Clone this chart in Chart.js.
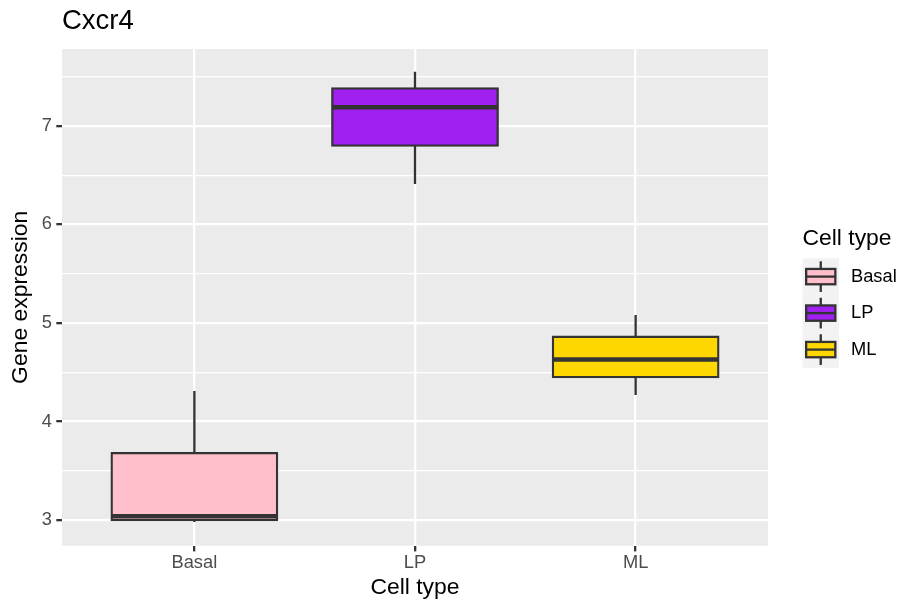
<!DOCTYPE html>
<html>
<head>
<meta charset="utf-8">
<title>Cxcr4</title>
<script src="https://cdn.jsdelivr.net/npm/chart.js@4.4.1/dist/chart.umd.min.js"></script>
<style>
  html, body { margin: 0; padding: 0; background: #ffffff; }
  #wrap { width: 898px; height: 601px; }
</style>
</head>
<body>
<div id="wrap"><canvas id="boxChart" width="898" height="601"></canvas></div>
<script>
// Cxcr4 expression per cell type - box statistics
const categories = ['Basal', 'LP', 'ML'];
const whiskerLow = [2.98, 6.41, 4.27];
const lowerQuartile = [3.00, 6.80, 4.45];
const medians = [3.04, 7.19, 4.63];
const upperQuartile = [3.68, 7.38, 4.86];
const whiskerHigh = [4.31, 7.55, 5.08];
const boxColors = ['#FFC0CB', '#A020F0', '#FFD700'];
const yMajorTicks = [3, 4, 5, 6, 7];
const yMinorTicks = [3.5, 4.5, 5.5, 6.5, 7.5];

const FONT = "'Liberation Sans', Arial, Helvetica, sans-serif";
const LINE = '#333333';
const STROKE = 2.3;

// grey panel behind the grid
const panelBackground = {
    id: 'panelBackground',
    beforeDraw(chart) {
        const { ctx, chartArea: a } = chart;
        ctx.save();
        ctx.fillStyle = '#EBEBEB';
        ctx.fillRect(a.left, a.top, a.right - a.left, a.bottom - a.top);
        ctx.restore();
    }
};

// whiskers under the boxes, median bars on top
const boxWhiskers = {
    id: 'boxWhiskers',
    beforeDatasetsDraw(chart) {
        const { ctx, scales: { x, y } } = chart;
        ctx.save();
        ctx.strokeStyle = LINE;
        ctx.lineWidth = STROKE;
        ctx.lineCap = 'butt';
        categories.forEach((c, i) => {
            const px = x.getPixelForValue(i);
            ctx.beginPath();
            ctx.moveTo(px, y.getPixelForValue(upperQuartile[i]));
            ctx.lineTo(px, y.getPixelForValue(whiskerHigh[i]));
            ctx.moveTo(px, y.getPixelForValue(lowerQuartile[i]));
            ctx.lineTo(px, y.getPixelForValue(whiskerLow[i]));
            ctx.stroke();
        });
        ctx.restore();
    },
    afterDatasetsDraw(chart) {
        const { ctx, scales: { y } } = chart;
        const meta = chart.getDatasetMeta(0);
        ctx.save();
        ctx.strokeStyle = LINE;
        ctx.lineWidth = 4.5;
        ctx.lineCap = 'butt';
        meta.data.forEach((bar, i) => {
            const { x, width } = bar.getProps(['x', 'width'], true);
            const py = y.getPixelForValue(medians[i]);
            ctx.beginPath();
            ctx.moveTo(x - width / 2, py);
            ctx.lineTo(x + width / 2, py);
            ctx.stroke();
        });
        ctx.restore();
    }
};

// ggplot-style legend with mini boxplot keys
const cellTypeLegend = {
    id: 'cellTypeLegend',
    afterDraw(chart) {
        const { ctx, chartArea: a } = chart;
        const left = a.right + 34.5;
        const mid = (a.top + a.bottom) / 2;
        const keySize = 36.5;
        const keysTop = mid - 39;
        ctx.save();
        ctx.fillStyle = '#000000';
        ctx.font = '22.9px ' + FONT;
        ctx.textAlign = 'left';
        ctx.textBaseline = 'alphabetic';
        ctx.fillText('Cell type', left, keysTop - 13.5);

        categories.forEach((c, i) => {
            const top = keysTop + i * keySize;
            const cx = left + keySize / 2;
            ctx.fillStyle = '#F2F2F2';
            ctx.fillRect(left, top, keySize, keySize);

            ctx.strokeStyle = LINE;
            ctx.lineWidth = STROKE;
            ctx.beginPath();
            ctx.moveTo(cx, top + keySize * 0.08);
            ctx.lineTo(cx, top + keySize * 0.92);
            ctx.stroke();

            const bx = left + keySize * 0.1, by = top + keySize * 0.29;
            const bw = keySize * 0.8, bh = keySize * 0.42;
            ctx.fillStyle = boxColors[i];
            ctx.fillRect(bx, by, bw, bh);
            ctx.strokeRect(bx, by, bw, bh);
            ctx.beginPath();
            ctx.moveTo(bx, top + keySize / 2);
            ctx.lineTo(bx + bw, top + keySize / 2);
            ctx.stroke();

            ctx.fillStyle = '#000000';
            ctx.font = '18.3px ' + FONT;
            ctx.textBaseline = 'middle';
            ctx.fillText(c, left + keySize + 12, top + keySize / 2);
            ctx.textBaseline = 'alphabetic';
        });
        ctx.restore();
    }
};

new Chart(document.getElementById('boxChart'), {
    type: 'bar',
    data: {
        datasets: [{
            label: 'Gene expression',
            data: categories.map((c, i) => ({ x: i, y: [lowerQuartile[i], upperQuartile[i]] })),
            backgroundColor: boxColors,
            borderColor: LINE,
            borderWidth: STROKE,
            borderSkipped: false,
            inflateAmount: STROKE / 2,
            categoryPercentage: 1,
            barPercentage: 0.75
        }]
    },
    options: {
        responsive: false,
        devicePixelRatio: 1,
        animation: false,
        layout: { padding: { top: 0, right: 130, bottom: 0, left: 0 } },
        plugins: {
            legend: { display: false },
            tooltip: { enabled: false },
            title: {
                display: true,
                text: 'Cxcr4',
                align: 'start',
                fullSize: false,
                color: '#000000',
                font: { family: FONT, size: 27.5, weight: 'normal', lineHeight: 1 },
                padding: { top: 7.75, bottom: 13.75 }
            }
        },
        scales: {
            x: {
                type: 'linear',
                min: -0.6,
                max: 2.6,
                offset: false,
                afterBuildTicks: (scale) => {
                    scale.ticks = categories.map((c, i) => ({ value: i }));
                },
                afterFit: (scale) => { scale.height = 55.3; },
                border: { display: false },
                grid: {
                    offset: false,
                    color: '#FFFFFF',
                    lineWidth: STROKE,
                    tickColor: LINE,
                    tickWidth: STROKE,
                    tickLength: 5.7
                },
                ticks: {
                    callback: (v) => categories[v] ?? '',
                    color: '#4D4D4D',
                    font: { family: FONT, size: 18.3 },
                    padding: 1,
                    autoSkip: false,
                    maxRotation: 0
                },
                title: {
                    display: true,
                    text: 'Cell type',
                    color: '#000000',
                    font: { family: FONT, size: 22.9, lineHeight: 1 },
                    padding: { top: 0, bottom: 1.5 }
                }
            },
            y: {
                type: 'linear',
                min: 2.74,
                max: 7.78,
                beginAtZero: false,
                afterBuildTicks: (scale) => {
                    scale.ticks = [...yMajorTicks, ...yMinorTicks]
                        .sort((p, q) => p - q)
                        .map(v => ({ value: v }));
                },
                afterFit: (scale) => { scale.width = 62; },
                border: { display: false },
                grid: {
                    color: '#FFFFFF',
                    lineWidth: (ctx) => yMajorTicks.includes(ctx.tick.value) ? STROKE : STROKE / 2,
                    tickColor: (ctx) => yMajorTicks.includes(ctx.tick.value) ? LINE : 'rgba(0,0,0,0)',
                    tickWidth: STROKE,
                    tickLength: 5.7
                },
                ticks: {
                    callback: (v) => yMajorTicks.includes(v) ? String(v) : '',
                    color: '#4D4D4D',
                    font: { family: FONT, size: 18.3 },
                    padding: 4.3,
                    autoSkip: false
                },
                title: {
                    display: true,
                    text: 'Gene expression',
                    color: '#000000',
                    font: { family: FONT, size: 22.9, lineHeight: 1 },
                    padding: { top: 8.8, bottom: 0 }
                }
            }
        }
    },
    plugins: [panelBackground, boxWhiskers, cellTypeLegend]
});
</script>
</body>
</html>
